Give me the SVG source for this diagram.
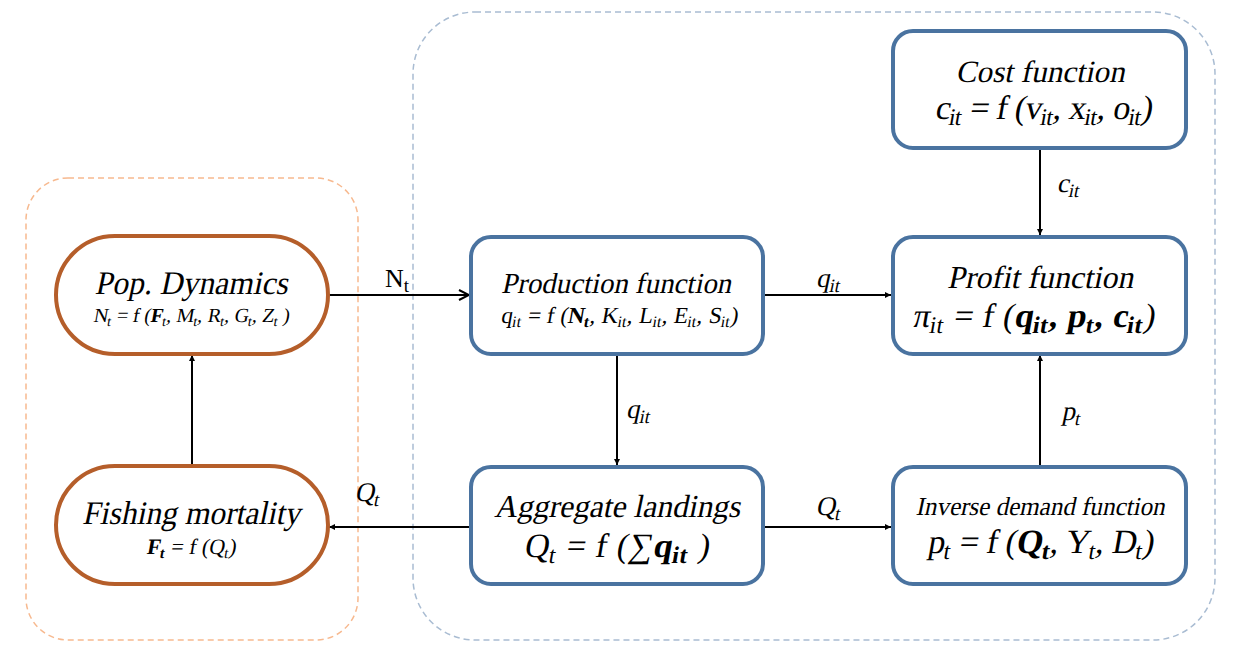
<svg xmlns="http://www.w3.org/2000/svg" width="1257" height="660" viewBox="0 0 1257 660">
<style>
.grpO{fill:none;stroke:#F7B98F;stroke-width:1.5;stroke-dasharray:6 4}
.grpB{fill:none;stroke:#A9BCD2;stroke-width:1.5;stroke-dasharray:6 4}
.nO{fill:#fff;stroke:#B55E2A;stroke-width:4}
.nB{fill:#fff;stroke:#4A73A0;stroke-width:4}
text{font-family:"Liberation Serif","Times New Roman",serif;fill:#000;text-anchor:middle}
.b{font-weight:bold}
.c{stroke:#000;stroke-width:2;fill:none}
</style>
<defs>
<marker id="af" viewBox="0 0 10 10" refX="10" refY="5" markerWidth="6" markerHeight="6" orient="auto" markerUnits="userSpaceOnUse">
<path d="M0,0 L10,5 L0,10 z" fill="#000"/>
</marker>
<marker id="ao" viewBox="0 0 12 12" refX="11" refY="6" markerWidth="12" markerHeight="12" orient="auto" markerUnits="userSpaceOnUse">
<path d="M1,1 L11,6 L1,11" fill="none" stroke="#000" stroke-width="2"/>
</marker>
</defs>
<rect x="26" y="178" width="332" height="462" rx="42" class="grpO"/>
<rect x="413" y="12" width="802" height="628" rx="62" class="grpB"/>

<g id="connectors">
<line x1="328" y1="295" x2="469" y2="295" class="c" marker-end="url(#ao)"/>
<line x1="763" y1="295" x2="891" y2="295" class="c" marker-end="url(#af)"/>
<line x1="617" y1="354" x2="617" y2="465" class="c" marker-end="url(#af)"/>
<line x1="470" y1="527" x2="329" y2="527" class="c" marker-end="url(#af)"/>
<line x1="763" y1="527" x2="891" y2="527" class="c" marker-end="url(#af)"/>
<line x1="1040" y1="466" x2="1040" y2="355" class="c" marker-end="url(#af)"/>
<line x1="1040" y1="148" x2="1040" y2="235" class="c" marker-end="url(#af)"/>
<line x1="192" y1="466" x2="192" y2="355" class="c" marker-end="url(#af)"/>
<text x="397" y="287" font-size="26">N<tspan font-size="19" dy="5">t</tspan></text>
<text transform="translate(828,287) skewX(-12)" font-size="27">q<tspan font-size="19" dy="5">it</tspan></text>
<text transform="translate(638,418) skewX(-12)" font-size="27">q<tspan font-size="19" dy="5">it</tspan></text>
<text transform="translate(367,501) skewX(-12)" font-size="27">Q<tspan font-size="19" dy="5">t</tspan></text>
<text transform="translate(828,515) skewX(-12)" font-size="27">Q<tspan font-size="19" dy="5">t</tspan></text>
<text transform="translate(1071,420) skewX(-12)" font-size="27">p<tspan font-size="19" dy="5">t</tspan></text>
<text transform="translate(1068,192) skewX(-12)" font-size="27">c<tspan font-size="19" dy="5">it</tspan></text>
</g>

<g id="pop">
<rect x="56" y="236" width="272" height="118" rx="59" class="nO"/>
<text transform="translate(191,294) skewX(-12)" font-size="33" textLength="193" lengthAdjust="spacingAndGlyphs">Pop. Dynamics</text>
<text transform="translate(191,322) skewX(-10)" font-size="20" textLength="196">N<tspan font-size="14" dy="4">t</tspan><tspan dy="-4"> = f (</tspan><tspan class="b">F</tspan><tspan font-size="14" dy="4">t</tspan><tspan dy="-4">, M</tspan><tspan font-size="14" dy="4">t</tspan><tspan dy="-4">, R</tspan><tspan font-size="14" dy="4">t</tspan><tspan dy="-4">, G</tspan><tspan font-size="14" dy="4">t</tspan><tspan dy="-4">, Z</tspan><tspan font-size="14" dy="4">t</tspan><tspan dy="-4">  )</tspan></text>
</g>

<g id="fishing">
<rect x="56" y="466" width="272" height="118" rx="59" class="nO"/>
<text transform="translate(191,524) skewX(-12)" font-size="33" textLength="218" lengthAdjust="spacingAndGlyphs">Fishing mortality</text>
<text transform="translate(191,554) skewX(-10)" font-size="22"><tspan class="b">F</tspan><tspan class="b" font-size="15" dy="4">t</tspan><tspan dy="-4"> = f (Q</tspan><tspan font-size="15" dy="4">t</tspan><tspan dy="-4">)</tspan></text>
</g>

<g id="production">
<rect x="471" y="237" width="292" height="117" rx="20" class="nB"/>
<text transform="translate(616,293) skewX(-12)" font-size="29" textLength="230" lengthAdjust="spacingAndGlyphs">Production function</text>
<text transform="translate(619,323) skewX(-10)" font-size="23" textLength="237">q<tspan font-size="16" dy="4">it</tspan><tspan dy="-4"> = f (</tspan><tspan class="b">N</tspan><tspan class="b" font-size="16" dy="4">t</tspan><tspan dy="-4">, K</tspan><tspan font-size="16" dy="4">it</tspan><tspan dy="-4">, L</tspan><tspan font-size="16" dy="4">it</tspan><tspan dy="-4">, E</tspan><tspan font-size="16" dy="4">it</tspan><tspan dy="-4">, S</tspan><tspan font-size="16" dy="4">it</tspan><tspan dy="-4">)</tspan></text>
</g>

<g id="aggregate">
<rect x="471" y="467" width="292" height="117" rx="20" class="nB"/>
<text transform="translate(617,517) skewX(-12)" font-size="32" textLength="246" lengthAdjust="spacingAndGlyphs">Aggregate landings</text>
<text transform="translate(616,557) skewX(-10)" font-size="34" textLength="185">Q<tspan font-size="24" dy="6">t</tspan><tspan dy="-6"> = f (∑</tspan><tspan class="b">q</tspan><tspan class="b" font-size="24" dy="6">it</tspan><tspan dy="-6"> )</tspan></text>
</g>

<g id="cost">
<rect x="893" y="31" width="293" height="117" rx="20" class="nB"/>
<text transform="translate(1040,82) skewX(-12)" font-size="31" textLength="169" lengthAdjust="spacingAndGlyphs">Cost function</text>
<text transform="translate(1043,119) skewX(-10)" font-size="34" textLength="217">c<tspan font-size="24" dy="6">it</tspan><tspan dy="-6"> = f (v</tspan><tspan font-size="24" dy="6">it</tspan><tspan dy="-6">, x</tspan><tspan font-size="24" dy="6">it</tspan><tspan dy="-6">, o</tspan><tspan font-size="24" dy="6">it</tspan><tspan dy="-6">)</tspan></text>
</g>

<g id="profit">
<rect x="893" y="237" width="293" height="117" rx="20" class="nB"/>
<text transform="translate(1040,288) skewX(-12)" font-size="32" textLength="186" lengthAdjust="spacingAndGlyphs">Profit function</text>
<text transform="translate(1033,327) skewX(-10)" font-size="34" textLength="242">π<tspan font-size="24" dy="6">it</tspan><tspan dy="-6"> = f (</tspan><tspan class="b">q</tspan><tspan class="b" font-size="24" dy="6">it</tspan><tspan class="b" dy="-6">, p</tspan><tspan class="b" font-size="24" dy="6">t</tspan><tspan class="b" dy="-6">, c</tspan><tspan class="b" font-size="24" dy="6">it</tspan><tspan dy="-6">)</tspan></text>
</g>

<g id="inverse">
<rect x="893" y="467" width="293" height="117" rx="20" class="nB"/>
<text transform="translate(1040,515) skewX(-12)" font-size="26" textLength="249" lengthAdjust="spacingAndGlyphs">Inverse demand function</text>
<text transform="translate(1040,553) skewX(-10)" font-size="34" textLength="226">p<tspan font-size="24" dy="6">t</tspan><tspan dy="-6"> = f (</tspan><tspan class="b">Q</tspan><tspan class="b" font-size="24" dy="6">t</tspan><tspan dy="-6">, Y</tspan><tspan font-size="24" dy="6">t</tspan><tspan dy="-6">, D</tspan><tspan font-size="24" dy="6">t</tspan><tspan dy="-6">)</tspan></text>
</g>
</svg>
